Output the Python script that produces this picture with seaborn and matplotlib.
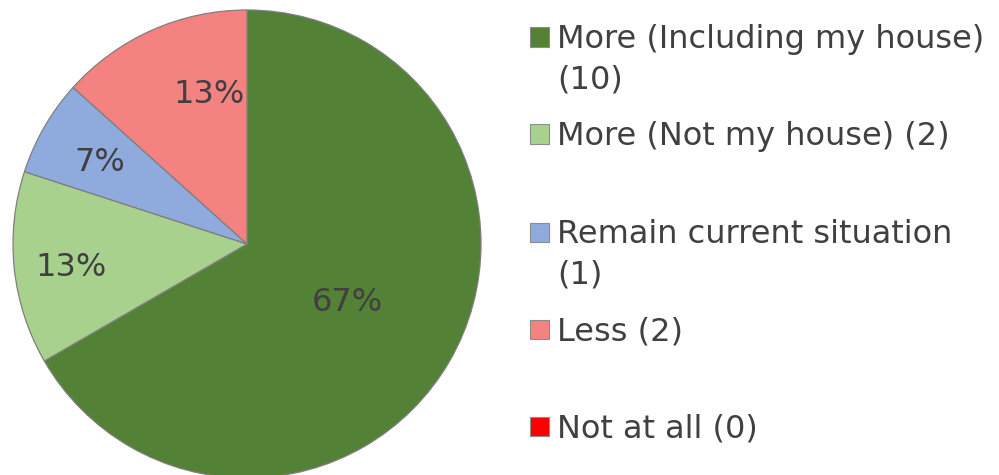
import matplotlib
matplotlib.use("Agg")
import matplotlib.pyplot as plt
import seaborn as sns
from matplotlib.patches import Rectangle

# ---- data ----
categories = ["More (Including my house)\n(10)", "More (Not my house) (2)",
              "Remain current situation\n(1)", "Less (2)", "Not at all (0)"]
counts = [10, 2, 1, 2, 0]
colors = ["#538135", "#A9D18E", "#8FAADC", "#F48281", "#FF0000"]

# ---- layout constants ----
W, H = 999, 475
label_pos = [(0.43, -0.25), (-0.75, -0.10), (-0.63, 0.35), (-0.16, 0.64)]
legend_y = [37, 134, 232, 329, 426]   # px from top, square centres
text_color = "#404040"

sns.set_theme(style="white")
plt.rcParams['font.family'] = ['DejaVu Sans']

fig = plt.figure(figsize=(W / 100, H / 100), dpi=100)
cx, cy, r = 247, 244, 234
ax = fig.add_axes([(cx - r) / W, (H - cy - r) / H, 2 * r / W, 2 * r / H])

vals = [v for v in counts if v > 0]
cols = [c for v, c in zip(counts, colors) if v > 0]
total = sum(vals)
wedges, _ = ax.pie(vals, colors=cols, startangle=90, counterclock=False,
                   radius=1, wedgeprops=dict(edgecolor="#7f7f7f", linewidth=0.9))
for w in wedges:
    w.set_clip_on(False)
ax.set_xlim(-1, 1)
ax.set_ylim(-1, 1)
ax.set_aspect("equal")
ax.axis("off")

for v, (lx, ly) in zip(vals, label_pos):
    ax.text(lx, ly, f"{round(100 * v / total)}%", ha="center", va="center",
            fontsize=23, color=text_color)

# ---- legend ----
sq = 19
fs = 23
E = fs * 100 / 72
for lab, col, yc in zip(categories, colors, legend_y):
    fig.patches.append(Rectangle(((530) / W, (H - yc - sq / 2) / H), sq / W, sq / H,
                                 transform=fig.transFigure, facecolor=col,
                                 edgecolor="#8c8c8c", linewidth=0.8))
    top_px = yc + 0.3645 * E - 0.76 * E
    fig.text(557 / W, (H - top_px) / H, lab, ha="left", va="top",
             fontsize=fs, color=text_color, linespacing=1.36)

fig.savefig("out.png", dpi=100)
